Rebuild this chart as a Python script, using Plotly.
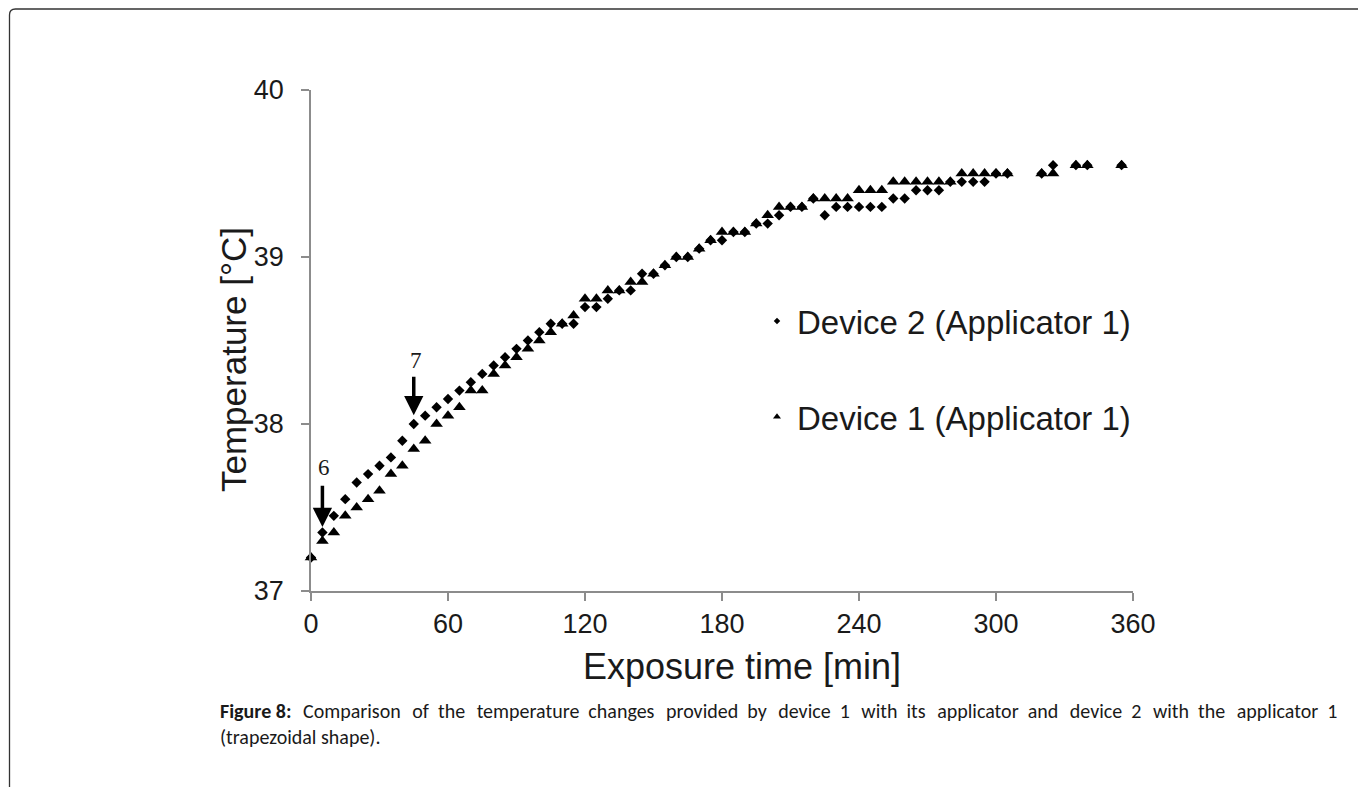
import plotly.graph_objects as go

# ---------------- data ----------------
time_min = [0, 5, 10, 15, 20, 25, 30, 35, 40, 45, 50, 55, 60, 65, 70, 75, 80, 85, 90, 95,
            100, 105, 110, 115, 120, 125, 130, 135, 140, 145, 150, 155, 160, 165, 170, 175,
            180, 185, 190, 195, 200, 205, 210, 215, 220, 225, 230, 235, 240, 245, 250, 255,
            260, 265, 270, 275, 280, 285, 290, 295, 300, 305, 320, 325, 335, 340, 355]

device2_app1 = [37.2, 37.35, 37.45, 37.55, 37.65, 37.7, 37.75, 37.8, 37.9, 38.0, 38.05, 38.1,
                38.15, 38.2, 38.25, 38.3, 38.35, 38.4, 38.45, 38.5, 38.55, 38.6, 38.6, 38.6,
                38.7, 38.7, 38.75, 38.8, 38.8, 38.9, 38.9, 38.95, 39.0, 39.0, 39.05, 39.1,
                39.1, 39.15, 39.15, 39.2, 39.2, 39.25, 39.3, 39.3, 39.35, 39.25, 39.3, 39.3,
                39.3, 39.3, 39.3, 39.35, 39.35, 39.4, 39.4, 39.4, 39.45, 39.45, 39.45, 39.45,
                39.5, 39.5, 39.5, 39.55, 39.55, 39.55, 39.55]

device1_app1 = [37.2, 37.3, 37.35, 37.45, 37.5, 37.55, 37.6, 37.7, 37.75, 37.85, 37.9, 38.0,
                38.05, 38.1, 38.2, 38.2, 38.3, 38.35, 38.4, 38.45, 38.5, 38.55, 38.6, 38.65,
                38.75, 38.75, 38.8, 38.8, 38.85, 38.85, 38.9, 38.95, 39.0, 39.0, 39.05, 39.1,
                39.15, 39.15, 39.15, 39.2, 39.25, 39.3, 39.3, 39.3, 39.35, 39.35, 39.35, 39.35,
                39.4, 39.4, 39.4, 39.45, 39.45, 39.45, 39.45, 39.45, 39.45, 39.5, 39.5, 39.5,
                39.5, 39.5, 39.5, 39.5, 39.55, 39.55, 39.55]

series_names = ["Device 2 (Applicator 1)", "Device 1 (Applicator 1)"]
x_ticks = [0, 60, 120, 180, 240, 300, 360]
y_ticks = [37, 38, 39, 40]
x_title = "Exposure time [min]"
y_title = "Temperature [°C]"
caption_bold = "Figure 8:"
caption_rest = ("Comparison of the temperature changes provided by device 1 with its "
                "applicator and device 2 with the applicator 1")
caption_line2 = "(trapezoidal shape)."

# ---------------- layout geometry ----------------
W, H = 1358, 787
ML, MR, MT, MB = 311, 225, 90, 196
PW, PH = W - ML - MR, H - MT - MB


def px(xp):
    return (xp - ML) / PW


def py(yp):
    return (H - MB - yp) / PH


AX_COLOR = "#8c8c8c"
TXT = "#1a1a1a"
ARIAL = "Liberation Sans, Arial, sans-serif"

fig = go.Figure()

# data traces
fig.add_trace(go.Scatter(x=time_min, y=device2_app1, mode="markers", name=series_names[0],
                         marker=dict(symbol="diamond", size=8, color="black"),
                         showlegend=False, cliponaxis=False))
fig.add_trace(go.Scatter(x=time_min, y=device1_app1, mode="markers", name=series_names[1],
                         marker=dict(symbol="triangle-up", size=11, color="black"),
                         showlegend=False, cliponaxis=False))
# legend-only entries (small symbols as in the reference)
fig.add_trace(go.Scatter(x=[None], y=[None], mode="markers", name=series_names[0],
                         marker=dict(symbol="diamond", size=5, color="black"),
                         legendgroup="a"))
fig.add_trace(go.Scatter(x=[None], y=[None], mode="markers", name=series_names[1],
                         marker=dict(symbol="triangle-up", size=7, color="black"),
                         legendgroup="b"))

fig.update_xaxes(range=[0, 360], tickvals=x_ticks, ticks="outside", ticklen=8, tickwidth=1.5,
                 tickcolor=AX_COLOR, showline=True, linecolor=AX_COLOR, linewidth=1.5,
                 showgrid=False, zeroline=False, ticklabelstandoff=0,
                 tickfont=dict(family=ARIAL, size=27, color=TXT))
fig.update_yaxes(range=[37, 40], tickvals=y_ticks, ticks="outside", ticklen=8, tickwidth=1.5,
                 tickcolor=AX_COLOR, showline=True, linecolor=AX_COLOR, linewidth=1.5,
                 showgrid=False, zeroline=False, ticklabelstandoff=12,
                 tickfont=dict(family=ARIAL, size=27, color=TXT))

annotations = []
# axis titles (placed like the reference, slightly off-centre)
annotations.append(dict(x=px(742), y=py(666), xref="paper", yref="paper", showarrow=False,
                        xanchor="center", yanchor="middle",
                        text=x_title, font=dict(family=ARIAL, size=36, color=TXT)))
annotations.append(dict(x=px(233), y=py(360), xref="paper", yref="paper", showarrow=False,
                        xanchor="center", yanchor="middle",
                        text=y_title, textangle=-90, font=dict(family=ARIAL, size=35, color=TXT)))

# arrows 6 and 7
for xt, ytip, ytail, ylab, lab in [(5, 37.383, 37.639, 37.74, "6"), (45, 38.052, 38.292, 38.38, "7")]:
    annotations.append(dict(x=xt, y=ytip, ax=xt, ay=ytail, xref="x", yref="y", axref="x", ayref="y",
                            text="", showarrow=True, arrowhead=2, arrowsize=1.1, arrowwidth=3.5,
                            arrowcolor="black", standoff=0, startstandoff=0))
    annotations.append(dict(x=xt + 0.8, y=ylab, xref="x", yref="y", text=lab, showarrow=False,
                            font=dict(family="Liberation Serif, Times New Roman, serif", size=23,
                                      color=TXT)))

# caption (first line justified by slightly widened word gaps)
CAP_FONT = "Carlito, Calibri, Lato, sans-serif"
words = caption_rest.split(" ")
line1 = "<b>" + caption_bold + "</b>\u00a0\u200a "
for i, wd in enumerate(words):
    line1 += wd
    if i < len(words) - 1:
        line1 += ("\u00a0\u200a " if i % 2 == 0 else "\u00a0 ")
annotations.append(dict(x=px(218), y=py(711), xref="paper", yref="paper", xanchor="left",
                        yanchor="middle", showarrow=False, text=line1,
                        font=dict(family=CAP_FONT, size=20, color=TXT)))
annotations.append(dict(x=px(218), y=py(737), xref="paper", yref="paper", xanchor="left",
                        yanchor="middle", showarrow=False, text=caption_line2,
                        font=dict(family=CAP_FONT, size=20, color=TXT)))

# frame (rounded top-left corner, top and left edges)
x0, y0, r = 9.5, 9.0, 6
frame_path = (f"M {px(x0)},{py(H + 5)} L {px(x0)},{py(y0 + r)} "
              f"Q {px(x0)},{py(y0)} {px(x0 + r)},{py(y0)} L {px(W + 5)},{py(y0)}")

fig.update_layout(
    width=W, height=H, autosize=False,
    margin=dict(l=ML, r=MR, t=MT, b=MB, pad=0),
    paper_bgcolor="white", plot_bgcolor="white",
    showlegend=True,
    legend=dict(x=px(757), y=py(293), xanchor="left", yanchor="top",
                font=dict(family=ARIAL, size=33, color=TXT), tracegroupgap=50,
                bgcolor="rgba(0,0,0,0)", itemwidth=30),
    annotations=annotations,
    shapes=[dict(type="path", path=frame_path, xref="paper", yref="paper",
                 line=dict(color="#333333", width=1.3))],
)

fig.write_html("out.html")
